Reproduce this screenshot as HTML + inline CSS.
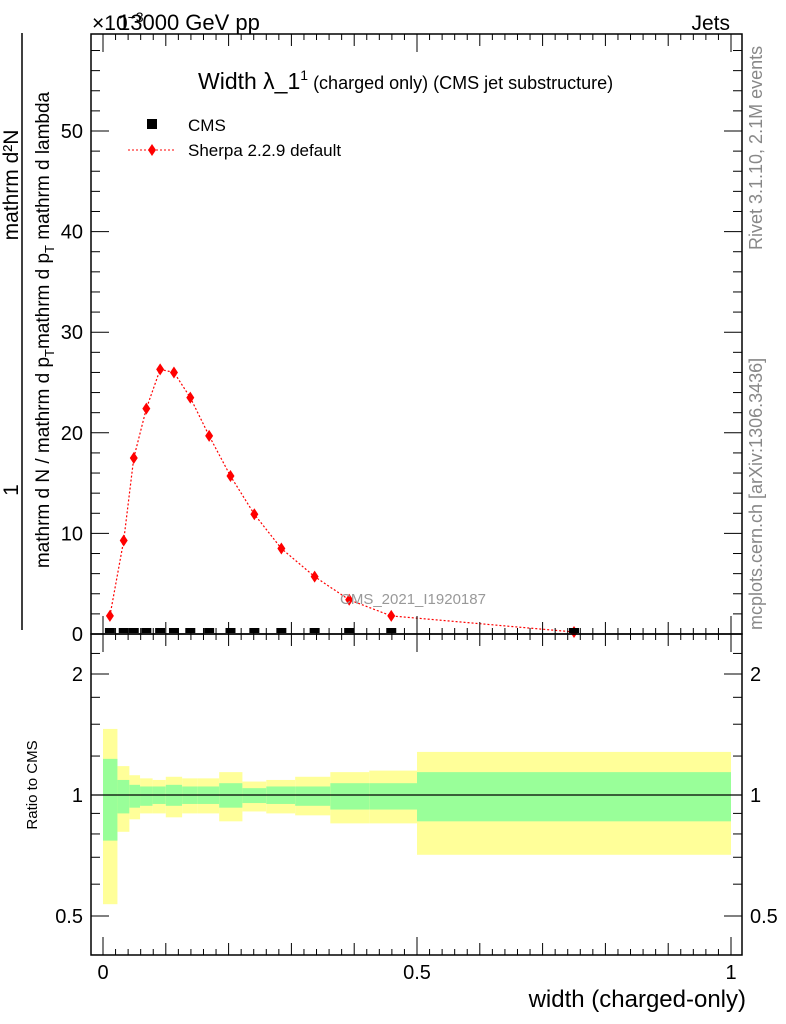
<!DOCTYPE html>
<html><head><meta charset="utf-8"><style>
body{margin:0;background:#fff}
svg{display:block;font-family:"Liberation Sans",sans-serif}
</style></head><body>
<svg id="c" width="786" height="1024" viewBox="0 0 786 1024">
<g id="bands"></g><g id="main"></g><g id="axes"></g>
<text x="92" y="30" font-size="21">×10<tspan font-size="14" dy="-8">−3</tspan></text>
<text x="118" y="30" font-size="22">13000 GeV pp</text>
<text x="730" y="30" font-size="21" text-anchor="end">Jets</text>
<text x="198" y="89" font-size="23">Width λ_1<tspan font-size="14" dy="-9">1</tspan><tspan font-size="18" dy="9"> (charged only) (CMS jet substructure)</tspan></text>
<rect x="147" y="119" width="10" height="10" fill="#000"/>
<text x="188" y="131" font-size="17">CMS</text>
<line x1="128" y1="150" x2="176" y2="150" stroke="red" stroke-dasharray="2,2"/>
<polygon points="152,144 156,150 152,156 148,150" fill="red"/>
<text x="188" y="156" font-size="17">Sherpa 2.2.9 default</text>
<text x="340" y="604" font-size="15" fill="#999">CMS_2021_I1920187</text>
<g>
<text transform="translate(49,330) rotate(-90)" font-size="19" text-anchor="middle">mathrm d N / mathrm d p<tspan font-size="13" dy="5">T</tspan><tspan dy="-5">mathrm d p</tspan><tspan font-size="13" dy="5">T</tspan><tspan dy="-5"> mathrm d lambda</tspan></text>
<line x1="22" y1="33" x2="22" y2="630" stroke="#000" stroke-width="1.5"/>
<text transform="translate(18,490) rotate(-90)" font-size="21" text-anchor="middle">1</text>
<text transform="translate(18,185) rotate(-90)" font-size="21" text-anchor="middle">mathrm d²N</text>
</g>
<text transform="translate(37,785) rotate(-90)" font-size="15" text-anchor="middle">Ratio to CMS</text>
<text x="746" y="1007" font-size="24" text-anchor="end">width (charged-only)</text>
<text transform="translate(762,250) rotate(-90)" font-size="18" fill="#888">Rivet 3.1.10,  2.1M events</text>
<text transform="translate(762,630) rotate(-90)" font-size="18" fill="#888">mcplots.cern.ch [arXiv:1306.3436]</text>
</svg>
<script>
const binEdges=[0,0.023,0.042,0.059,0.079,0.1,0.126,0.15,0.185,0.222,0.26,0.306,0.362,0.424,0.5,1];
const binCenters=[0.011,0.033,0.049,0.069,0.091,0.113,0.139,0.169,0.203,0.241,0.284,0.337,0.392,0.459,0.75];
const cmsValues=[0.1,0.1,0.1,0.1,0.1,0.1,0.1,0.1,0.1,0.1,0.1,0.1,0.1,0.1,0.1];
const sherpaValues=[1.8,9.3,17.5,22.4,26.3,26.0,23.5,19.7,15.7,11.9,8.5,5.7,3.4,1.8,0.2];
const yellowHi=[1.46,1.18,1.12,1.10,1.09,1.11,1.10,1.10,1.14,1.08,1.09,1.11,1.14,1.15,1.28];
const greenHi=[1.23,1.09,1.06,1.05,1.05,1.06,1.05,1.05,1.07,1.04,1.05,1.05,1.07,1.07,1.14];
const greenLo=[0.77,0.90,0.93,0.94,0.95,0.94,0.95,0.95,0.93,0.955,0.95,0.94,0.92,0.92,0.86];
const yellowLo=[0.535,0.81,0.87,0.90,0.90,0.88,0.90,0.90,0.86,0.91,0.90,0.89,0.85,0.85,0.71];
const yTicks=[0,10,20,30,40,50];
const xTicks=[0,0.5,1];
const rTicks=[0.5,1,2];
const NS="http://www.w3.org/2000/svg";
const L=91,R=742,T=34,B=634,RB=955;
const X=v=>103+v*628;
const Y=v=>B-v*10.06;
const RY=v=>795-Math.log2(v)*121;
function mk(p,tag,a){const e=document.createElementNS(NS,tag);for(const k in a)e.setAttribute(k,a[k]);p.appendChild(e);return e;}
const bands=document.getElementById('bands'),main=document.getElementById('main'),ax=document.getElementById('axes');
for(let i=0;i<binCenters.length;i++){
 const x0=X(binEdges[i]),x1=Math.min(X(binEdges[i+1]),R);
 const y=mk(bands,'rect',{x:x0,y:RY(yellowHi[i]),width:x1-x0,height:RY(yellowLo[i])-RY(yellowHi[i]),fill:'#ffff99'});
 
 
 const g=mk(bands,'rect',{x:x0,y:RY(greenHi[i]),width:x1-x0,height:RY(greenLo[i])-RY(greenHi[i]),fill:'#99ff99'});
 
 
}
mk(bands,'line',{x1:L,x2:R,y1:RY(1),y2:RY(1),stroke:'#000','stroke-width':1.2});
let pts=binCenters.map((c,i)=>X(c)+','+Y(sherpaValues[i])).join(' ');
const pl=mk(main,'polyline',{points:pts,fill:'none',stroke:'red','stroke-width':1.2,'stroke-dasharray':'2,2'});


binCenters.forEach((c,i)=>{
 const x=X(c),yy=Y(sherpaValues[i]);
 const d=mk(main,'polygon',{points:`${x},${yy-6} ${x+4},${yy} ${x},${yy+6} ${x-4},${yy}`,fill:'red'});
 
 
 const s=mk(main,'rect',{x:x-5,y:Y(cmsValues[i])-5,width:10,height:5,fill:'#000'});
 
 
});
mk(ax,'rect',{x:L,y:T,width:R-L,height:B-T,fill:'none',stroke:'#000','stroke-width':1.5});
mk(ax,'rect',{x:L,y:B,width:R-L,height:RB-B,fill:'none',stroke:'#000','stroke-width':1.5});
for(let v=0;v<=58;v+=2){const y=Y(v);if(y<T)break;const len=v%10==0?18:9;
 mk(ax,'line',{x1:L,x2:L+len,y1:y,y2:y,stroke:'#000'});mk(ax,'line',{x1:R,x2:R-len,y1:y,y2:y,stroke:'#000'});}
yTicks.forEach(v=>{const t=mk(ax,'text',{x:L-8,y:Y(v)+7,'font-size':20,'text-anchor':'end'});t.textContent=v;
 
 });
for(let i=0;i<=50;i++){const v=i*0.02;const x=X(v);if(x>R)break;const len=i%5==0?(i%25==0?18:12):6;
 [[B,-1],[T,1],[RB,-1],[B,1]].forEach(([yb,d])=>mk(ax,'line',{x1:x,x2:x,y1:yb,y2:yb+d*len,stroke:'#000'}));}
xTicks.forEach(v=>{const t=mk(ax,'text',{x:X(v),y:979,'font-size':20,'text-anchor':'middle'});t.textContent=v;
 
 });
for(const v of [0.4,0.5,0.6,0.7,0.8,0.9,1,2]){const y=RY(v);if(y>RB||y<B)continue;const len=(v==0.5||v==1||v==2)?18:9;
 mk(ax,'line',{x1:L,x2:L+len,y1:y,y2:y,stroke:'#000'});mk(ax,'line',{x1:R,x2:R-len,y1:y,y2:y,stroke:'#000'});}
for(let i=1;i<=5;i++){const y=RY(1+i*0.25);if(y<B)break;mk(ax,'line',{x1:L,x2:L+9,y1:y,y2:y,stroke:'#000'});mk(ax,'line',{x1:R,x2:R-9,y1:y,y2:y,stroke:'#000'});}
rTicks.forEach(v=>{const t=mk(ax,'text',{x:L-8,y:RY(v)+7,'font-size':20,'text-anchor':'end'});t.textContent=v;
 
 
 const t2=mk(ax,'text',{x:750,y:RY(v)+7,'font-size':20});t2.textContent=v;
 
 });
</script>
</body></html>
